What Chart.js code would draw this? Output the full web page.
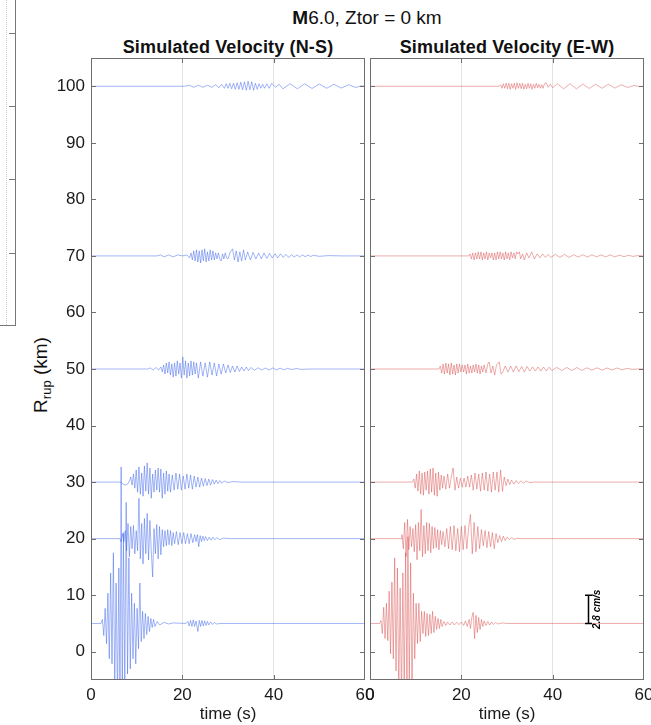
<!DOCTYPE html>
<html>
<head>
<meta charset="utf-8">
<title>Simulated velocity</title>
<script src="https://cdn.jsdelivr.net/npm/chart.js@4.4.1/dist/chart.umd.min.js"></script>
<style>
  body { margin: 0; width: 651px; height: 725px; overflow: hidden; background: #fff; position: relative;
         font-family: "Liberation Sans", Arial, sans-serif; color: #111; }
  canvas { position: absolute; top: 0; }
  .lbl { position: absolute; white-space: nowrap; line-height: 1; }
  .frag { position: absolute; background: #777; }
</style>
</head>
<body>

<!-- piece of the neighbouring figure cut off at the left edge -->
<div class="frag" style="left:15px;top:0;width:1px;height:326px"></div>
<div class="frag" style="left:0;top:325px;width:16px;height:1px"></div>
<div class="frag" style="left:9px;top:33px;width:6px;height:1px"></div>
<div class="frag" style="left:9px;top:106px;width:6px;height:1px"></div>
<div class="frag" style="left:9px;top:179px;width:6px;height:1px"></div>
<div class="frag" style="left:9px;top:253px;width:6px;height:1px"></div>
<div style="position:absolute;left:6px;top:0;height:325px;border-left:1px dotted #ccc"></div>

<div class="lbl" style="left:367px;top:8px;font-size:19px;transform:translateX(-50%)"><b>M</b>6.0, Ztor = 0 km</div>
<div class="lbl" style="left:228px;top:38px;font-size:18px;font-weight:bold;letter-spacing:0.15px;transform:translateX(-50%)">Simulated Velocity (N-S)</div>
<div class="lbl" style="left:507px;top:38px;font-size:18px;font-weight:bold;letter-spacing:0.15px;transform:translateX(-50%)">Simulated Velocity (E-W)</div>
<div class="lbl" style="left:42px;top:375px;font-size:19px;transform:translate(-50%,-50%) rotate(-90deg)">R<sub style="font-size:13px">rup</sub> (km)</div>

<canvas id="nsChart" width="380" height="725" style="left:0"></canvas>
<canvas id="ewChart" width="320" height="725" style="left:356px"></canvas>

<script>
// trace offsets (km) and axes
const rrup = [5, 20, 30, 50, 70, 100];
const xTicks = [0, 20, 40, 60];
const yTicks = [0, 10, 20, 30, 40, 50, 60, 70, 80, 90, 100];
const kmPerCms = 5 / 2.8;      // scale bar: 2.8 cm/s
const scaleBarT = 47.7;
const scaleBarCms = 2.8;

// velocity traces, [time s, velocity cm/s]
const ns5 = [[0,0],[2.2,0],[2.5,0.4],[2.8,-1.2],[3.1,1.5],[3.4,-2.0],[3.7,3.0],[4.0,-3.5],[4.3,5.0],[4.6,-4.0],[4.9,7.0],[5.2,-6.5],[5.5,4.0],[5.8,-7.5],[6.1,5.5],[6.35,-9.0],[6.6,15.5],[6.85,-8.5],[7.1,9.0],[7.4,-6.5],[7.7,12.0],[8.0,-5.0],[8.3,6.5],[8.6,-4.5],[8.9,3.0],[9.2,-3.5],[9.5,2.0],[9.8,-4.0],[10.1,1.5],[10.4,-2.5],[10.7,4.0],[11.0,-1.8],[11.3,1.2],[11.6,-1.5],[11.9,1.0],[12.2,-1.1],[12.5,0.7],[12.8,-0.8],[13.1,0.5],[13.4,-0.4],[13.7,0.4],[14.0,-0.3],[14.5,0.2],[15,-0.15],[16,0.1],[17,-0.05],[18,0.05],[20.8,0],[21.2,0.2],[21.5,-0.25],[21.8,0.3],[22.1,-0.3],[22.4,0.35],[22.7,-0.3],[23.0,0.25],[23.4,-0.8],[23.7,0.3],[24.0,-0.3],[24.3,0.3],[24.6,-0.25],[24.9,0.25],[25.2,-0.2],[25.5,0.2],[25.8,-0.15],[26.2,0.15],[26.6,-0.1],[27.0,0.1],[27.5,-0.05],[28.5,0],[60,0]];
const ns20 = [[0,0],[6.3,0],[6.6,-0.3],[6.9,0.5],[7.2,-0.3],[7.5,0.8],[7.8,-1.2],[8.1,1.5],[8.4,-1.8],[8.7,1.2],[9.0,-1.0],[9.3,1.3],[9.6,-1.5],[9.9,0.8],[10.2,-1.2],[10.5,4.0],[10.8,-2.0],[11.1,1.5],[11.4,-2.5],[11.7,2.0],[12.0,-1.5],[12.3,2.5],[12.6,-2.1],[12.9,1.8],[13.2,-1.2],[13.5,-3.8],[13.8,1.0],[14.1,-1.5],[14.4,1.4],[14.7,-2.0],[15.0,1.2],[15.3,-1.6],[15.6,0.9],[15.9,-0.8],[16.2,0.8],[16.5,-0.7],[16.8,0.9],[17.1,-0.6],[17.4,0.8],[17.7,-0.7],[18.0,0.6],[18.3,-0.5],[18.7,0.7],[19.1,-0.6],[19.5,0.6],[19.9,-0.5],[20.3,0.6],[20.7,-0.5],[21.1,0.5],[21.5,-0.5],[21.9,0.5],[22.3,-0.4],[22.7,0.4],[23.0,-0.3],[23.3,0.4],[23.6,-0.8],[23.9,0.3],[24.2,-0.3],[24.5,0.25],[24.8,-0.2],[25.1,0.2],[25.5,-0.2],[25.9,0.15],[26.3,-0.15],[26.7,0.15],[27.1,-0.1],[27.6,0.1],[28.2,-0.1],[29,0.05],[30.5,0],[60,0]];
const ns30 = [[0,0],[6.6,0],[7.0,-0.2],[7.5,-0.3],[8.0,-0.2],[8.4,0.1],[8.7,0.5],[9.0,-0.3],[9.3,0.8],[9.6,-0.6],[9.9,1.2],[10.2,-1.0],[10.5,1.5],[10.8,-1.2],[11.1,0.9],[11.4,-1.4],[11.7,1.6],[12.0,-0.9],[12.3,1.9],[12.6,-1.2],[12.9,1.4],[13.2,-1.6],[13.5,0.8],[13.8,-1.0],[14.1,1.2],[14.4,-0.8],[14.7,1.4],[15.0,-1.0],[15.3,1.3],[15.6,-1.6],[15.9,0.9],[16.2,-1.2],[16.5,1.1],[16.8,-0.9],[17.1,0.8],[17.4,-1.0],[17.8,0.7],[18.2,-0.8],[18.6,0.9],[19.0,-0.7],[19.4,0.8],[19.8,-0.8],[20.2,0.6],[20.6,-0.7],[21.0,0.8],[21.4,-0.6],[21.8,0.7],[22.2,-0.7],[22.6,0.6],[23.0,-0.5],[23.4,0.5],[23.8,-0.5],[24.2,0.4],[24.6,-0.4],[25.0,0.35],[25.4,-0.35],[25.8,0.3],[26.2,-0.3],[26.6,0.25],[27.0,-0.2],[27.4,0.2],[27.8,-0.15],[28.2,0.15],[28.6,-0.1],[29.2,0.1],[30,-0.05],[31,0.05],[33,0],[60,0]];
const ns50 = [[0,0],[12.4,0],[13.0,0.1],[13.6,-0.1],[14.2,0.15],[14.8,-0.1],[15.3,0.2],[15.6,-0.3],[15.9,0.4],[16.2,-0.5],[16.5,0.6],[16.8,-0.4],[17.1,0.7],[17.4,-0.6],[17.7,0.5],[18.0,-0.8],[18.3,0.6],[18.6,-0.7],[18.9,0.8],[19.2,-0.5],[19.5,0.6],[19.8,-0.9],[20.1,1.2],[20.4,-0.6],[20.7,0.8],[21.0,-0.9],[21.3,0.6],[21.6,-0.7],[21.9,0.8],[22.2,-0.6],[22.5,0.7],[22.8,-0.5],[23.1,0.6],[23.5,-0.9],[24.0,0.7],[24.5,-0.7],[25.0,0.6],[25.5,-0.8],[26.0,0.7],[26.5,-0.6],[27.0,0.6],[27.5,-0.7],[28.0,0.5],[28.5,-0.5],[29.0,0.5],[29.5,-0.4],[30.0,0.4],[30.5,-0.35],[31.0,0.3],[31.5,-0.3],[32.0,0.3],[32.5,-0.25],[33.0,0.2],[33.5,-0.2],[34.0,0.2],[34.5,-0.15],[35.0,0.15],[35.8,-0.12],[36.6,0.12],[37.4,-0.1],[38.2,0.1],[39.0,-0.1],[39.8,0.1],[40.6,-0.08],[41.4,0.08],[42.2,-0.08],[43.0,0.06],[44,-0.05],[45,0.05],[46,-0.04],[48,0],[60,0]];
const ns70 = [[0,0],[14.5,0],[15.2,0.1],[16.0,-0.1],[17.0,0.1],[18.0,-0.1],[19.0,0.1],[20.0,0],[21.0,0.1],[21.6,-0.2],[21.9,0.3],[22.2,-0.4],[22.5,0.5],[22.8,-0.5],[23.1,0.6],[23.4,-0.6],[23.7,0.5],[24.0,-0.7],[24.3,0.6],[24.6,-0.5],[24.9,0.7],[25.2,-0.6],[25.5,0.4],[25.8,-0.5],[26.1,0.6],[26.4,-0.4],[26.7,0.5],[27.0,-0.4],[27.3,0.3],[27.6,-0.3],[27.9,0.3],[28.2,-0.3],[28.5,-0.5],[28.8,0.2],[29.1,-0.3],[29.4,0.3],[29.7,-0.2],[30.0,-0.3],[30.5,0.4],[31.0,0.7],[31.4,-0.4],[31.8,0.5],[32.2,-0.6],[32.6,0.4],[33.0,-0.5],[33.4,0.6],[33.8,-0.4],[34.3,0.4],[34.9,-0.4],[35.5,0.35],[36.1,-0.3],[36.7,0.3],[37.3,-0.3],[37.9,0.3],[38.5,-0.25],[39.1,0.25],[39.7,-0.2],[40.3,0.2],[40.9,-0.2],[41.5,0.2],[42.1,-0.15],[42.7,0.15],[43.3,-0.15],[43.9,0.12],[44.5,-0.12],[45.1,0.1],[45.7,-0.1],[46.3,0.1],[46.9,-0.08],[47.5,0.08],[48.1,-0.06],[48.7,0.06],[50,-0.04],[52,0.03],[55,0],[60,0]];
const ns100 = [[0,0],[20.5,0],[21.5,0.1],[22.5,-0.1],[23.5,0.1],[24.5,-0.1],[25.5,0.1],[26.5,-0.1],[27.3,0.15],[28.0,-0.15],[28.6,0.2],[29.2,-0.2],[29.6,0.25],[30.0,-0.2],[30.4,0.3],[30.8,-0.25],[31.2,0.3],[31.6,-0.3],[32.0,0.35],[32.4,-0.3],[32.8,0.4],[33.2,-0.35],[33.6,0.45],[34.0,-0.4],[34.4,0.5],[34.8,-0.35],[35.2,0.45],[35.6,-0.4],[36.0,0.3],[36.4,-0.3],[36.8,0.25],[37.2,-0.2],[37.6,0.2],[38.0,-0.2],[38.5,0.25],[39.0,-0.2],[39.6,0.3],[40.4,-0.1],[41.2,0.2],[42.0,-0.25],[43.6,0.25],[45.2,-0.25],[46.8,0.25],[48.4,-0.22],[50.0,0.22],[51.6,-0.2],[53.2,0.2],[54.8,-0.18],[56.4,0.15],[58.0,-0.12],[59.2,0.05],[60,0]];

const ew5 = [[0,0],[2.1,0],[2.4,0.3],[2.7,-1.0],[3.0,1.6],[3.3,-1.5],[3.6,2.0],[3.9,-1.7],[4.2,3.2],[4.5,-3.0],[4.8,4.1],[5.1,-3.5],[5.4,6.5],[5.7,-4.7],[6.0,5.5],[6.3,-7.0],[6.6,3.5],[6.9,-8.0],[7.2,5.0],[7.5,-6.5],[7.8,7.0],[8.1,-7.5],[8.3,8.6],[8.6,-6.0],[8.9,6.0],[9.2,-7.0],[9.5,3.0],[9.8,-3.5],[10.1,2.0],[10.4,-2.0],[10.7,2.0],[11.0,-1.8],[11.3,1.2],[11.6,-1.0],[11.9,1.2],[12.2,-1.3],[12.5,1.0],[12.8,-1.2],[13.1,0.9],[13.4,-1.0],[13.7,1.2],[14.0,-0.9],[14.3,0.7],[14.6,-0.6],[14.9,0.5],[15.2,-0.5],[15.5,0.4],[15.8,-0.3],[16.2,0.2],[16.6,-0.2],[17.0,0.15],[17.5,-0.15],[18.0,0.15],[18.5,-0.15],[19.0,0.12],[19.5,-0.12],[20.0,0.15],[20.5,-0.2],[20.9,0.25],[21.3,-0.3],[21.7,0.4],[22.0,-0.5],[22.3,0.6],[22.6,1.1],[22.9,-1.5],[23.2,0.8],[23.5,-0.9],[23.8,0.6],[24.1,-0.6],[24.4,0.4],[24.7,-0.3],[25.0,0.25],[25.4,-0.2],[25.8,0.2],[26.2,-0.15],[26.6,0.15],[27.0,-0.1],[27.5,0.1],[28,-0.05],[29,0.05],[30,0],[60,0]];
const ew20 = [[0,0],[6.8,0],[7.0,0.4],[7.3,-1.0],[7.6,1.6],[7.9,-1.8],[8.2,1.9],[8.5,-1.1],[8.8,1.2],[9.1,-0.8],[9.4,1.0],[9.7,-1.3],[10.0,1.4],[10.3,-2.1],[10.6,1.6],[10.9,-1.2],[11.2,2.9],[11.5,-1.8],[11.8,1.3],[12.1,-1.5],[12.4,1.6],[12.7,-1.2],[13.0,1.5],[13.3,-1.4],[13.6,1.2],[13.9,-1.0],[14.2,1.1],[14.5,-0.9],[14.8,0.9],[15.1,-1.1],[15.4,0.8],[15.7,-0.6],[16.0,0.7],[16.4,-0.8],[16.8,1.0],[17.2,-1.0],[17.6,1.2],[18.0,-1.1],[18.4,1.3],[18.8,-1.2],[19.2,1.0],[19.6,-1.3],[20.0,1.2],[20.4,-1.1],[20.8,1.3],[21.2,-1.0],[21.6,1.1],[22.0,2.4],[22.4,-1.5],[22.8,1.6],[23.2,-1.3],[23.6,1.2],[24.0,-1.0],[24.4,0.9],[24.8,-0.7],[25.2,0.8],[25.6,-0.9],[26.0,0.7],[26.4,-0.8],[26.8,0.6],[27.2,-1.0],[27.6,0.5],[28.0,-0.4],[28.4,0.3],[28.8,-0.3],[29.2,0.25],[29.6,-0.2],[30.0,0.15],[30.5,-0.1],[31.0,0.1],[31.6,-0.08],[32.2,0.05],[33,0],[60,0]];
const ew30 = [[0,0],[9.3,0],[9.6,0.3],[9.9,-0.6],[10.2,0.8],[10.5,-0.9],[10.8,1.1],[11.1,-1.2],[11.4,0.9],[11.7,-1.3],[12.0,1.0],[12.3,-0.8],[12.6,1.1],[12.9,-1.2],[13.2,1.3],[13.5,-1.0],[13.8,1.4],[14.1,-1.3],[14.4,0.9],[14.7,-1.4],[15.0,1.0],[15.3,-0.8],[15.6,0.7],[15.9,-0.6],[16.2,0.6],[16.6,-0.7],[17.0,0.8],[17.4,-0.6],[17.8,0.5],[18.2,1.4],[18.6,-0.8],[19.0,0.5],[19.4,-0.6],[19.8,0.4],[20.2,-0.5],[20.6,0.4],[21.0,-0.5],[21.4,0.6],[21.8,-0.5],[22.2,0.7],[22.6,-0.8],[23.0,0.9],[23.4,-0.7],[23.8,0.8],[24.2,-0.9],[24.6,0.9],[25.0,-0.8],[25.4,1.0],[25.8,-0.9],[26.2,0.8],[26.6,-1.0],[27.0,1.0],[27.4,-0.8],[27.8,1.0],[28.2,-1.0],[28.6,1.2],[29.0,-0.9],[29.4,0.5],[29.8,-0.35],[30.2,0.3],[30.6,-0.25],[31.0,0.2],[31.5,-0.2],[32.0,0.15],[32.5,-0.15],[33.0,0.12],[33.6,-0.1],[34.2,0.1],[35,-0.05],[36,0],[60,0]];
const ew50 = [[0,0],[15.1,0],[15.4,0.3],[15.7,-0.4],[16.0,0.5],[16.3,-0.5],[16.6,0.6],[16.9,-0.4],[17.2,0.5],[17.5,-0.6],[17.8,0.6],[18.1,-0.5],[18.4,0.4],[18.7,-0.6],[19.0,0.5],[19.3,-0.4],[19.6,0.5],[19.9,-0.3],[20.2,0.4],[20.5,-0.3],[20.8,0.4],[21.1,-0.5],[21.4,0.5],[21.7,-0.4],[22.0,0.3],[22.3,-0.4],[22.6,0.4],[22.9,-0.3],[23.2,0.5],[23.5,-0.4],[23.8,0.4],[24.1,-0.5],[24.4,0.3],[24.7,-0.3],[25.0,0.4],[25.4,-0.4],[25.8,0.5],[26.1,0.7],[26.5,-0.4],[26.9,0.3],[27.3,-0.6],[27.7,0.4],[28.3,0.7],[28.7,-0.5],[29.1,-0.3],[29.6,0.3],[30.2,-0.3],[30.8,0.3],[31.4,-0.3],[32.0,0.3],[32.6,-0.25],[33.2,0.25],[33.8,-0.3],[34.4,0.25],[35.0,-0.2],[35.6,0.2],[36.2,-0.2],[36.8,0.2],[37.4,-0.2],[38.0,0.2],[38.6,-0.2],[39.2,0.18],[39.8,-0.15],[40.9,0.15],[42.0,-0.15],[43.1,0.15],[44.2,-0.15],[45.3,0.15],[46.4,-0.15],[47.5,0.12],[48.6,-0.12],[49.7,0.12],[50.8,-0.12],[51.9,0.1],[53.0,-0.1],[54.1,0.1],[55.2,-0.08],[56.3,0.06],[57.4,-0.04],[58.5,0],[60,0]];
const ew70 = [[0,0],[21.6,0],[21.9,0.2],[22.2,-0.3],[22.5,0.3],[22.8,-0.4],[23.1,0.3],[23.4,-0.3],[23.7,0.4],[24.0,-0.3],[24.3,0.4],[24.6,-0.4],[24.9,0.3],[25.2,-0.3],[25.5,0.4],[25.8,-0.4],[26.1,0.3],[26.4,-0.2],[26.7,0.3],[27.0,-0.4],[27.3,0.3],[27.6,-0.4],[27.9,0.4],[28.2,-0.3],[28.5,0.4],[28.8,-0.3],[29.1,0.3],[29.4,-0.4],[29.7,0.4],[30.0,-0.3],[30.3,0.3],[30.6,-0.4],[30.9,0.4],[31.2,-0.2],[31.5,0.3],[31.8,-0.3],[32.1,0.4],[32.4,0.2],[32.7,0.4],[33.0,-0.3],[33.4,0.2],[33.8,-0.4],[34.3,0.3],[34.8,-0.2],[35.4,0.4],[36.0,-0.3],[36.6,0.2],[37.2,-0.2],[37.8,0.2],[38.4,-0.15],[39.0,0.15],[39.6,-0.15],[40.6,0.15],[41.6,-0.15],[42.6,0.15],[43.6,-0.15],[44.6,0.12],[45.6,-0.12],[46.6,0.12],[47.6,-0.12],[48.6,0.12],[49.6,-0.1],[50.6,0.1],[51.6,-0.1],[52.6,0.1],[53.6,-0.1],[54.6,0.08],[55.6,-0.08],[56.6,0.06],[57.6,-0.05],[58.6,0.03],[60,0]];
const ew100 = [[0,0],[28.3,0],[28.6,0.15],[28.9,-0.2],[29.2,0.25],[29.5,-0.2],[29.8,0.3],[30.1,-0.25],[30.4,0.3],[30.7,-0.3],[31.0,0.25],[31.3,-0.2],[31.6,0.3],[31.9,-0.3],[32.2,0.35],[32.5,-0.2],[32.8,0.3],[33.1,-0.25],[33.4,0.3],[33.7,-0.3],[34.0,0.2],[34.3,-0.25],[34.6,0.3],[34.9,-0.2],[35.2,0.25],[35.5,-0.3],[35.8,0.2],[36.1,-0.2],[36.4,0.3],[36.7,-0.15],[37.0,0.2],[37.3,-0.2],[37.6,0.15],[37.9,-0.2],[38.2,0.25],[38.6,0.35],[39.0,-0.1],[39.5,0.2],[40.0,-0.15],[41.0,0.25],[42.4,-0.25],[43.8,0.25],[45.2,-0.25],[46.6,0.22],[48.0,-0.22],[49.4,0.2],[50.8,-0.2],[52.2,0.2],[53.6,-0.18],[55.0,0.15],[56.4,-0.12],[57.8,0.08],[59.0,-0.03],[60,0]];

const nsTraces = [ns5, ns20, ns30, ns50, ns70, ns100];
const ewTraces = [ew5, ew20, ew30, ew50, ew70, ew100];

Chart.defaults.font.family = '"Liberation Sans", Arial, sans-serif';
Chart.defaults.color = '#1a1a1a';

// box, inward ticks and (optionally) the amplitude scale bar
const framePlugin = {
  id: 'frame',
  afterDatasetsDraw(chart, args, opts) {
    const { ctx, chartArea: a, scales: { x, y } } = chart;
    ctx.save();
    ctx.strokeStyle = '#6e6e6e';
    ctx.lineWidth = 1;
    ctx.beginPath();
    yTicks.forEach(v => {
      const p = Math.round(y.getPixelForValue(v)) + 0.5;
      ctx.moveTo(a.left, p); ctx.lineTo(a.left + 5, p);
      ctx.moveTo(a.right - 5, p); ctx.lineTo(a.right, p);
    });
    xTicks.slice(1, -1).forEach(v => {
      const p = Math.round(x.getPixelForValue(v)) + 0.5;
      ctx.moveTo(p, a.top); ctx.lineTo(p, a.top + 5);
      ctx.moveTo(p, a.bottom - 5); ctx.lineTo(p, a.bottom);
    });
    ctx.stroke();
    ctx.strokeRect(Math.round(a.left) + 0.5, Math.round(a.top) + 0.5,
                   Math.round(a.right - a.left) - 1, Math.round(a.bottom - a.top) - 1);

    if (opts.scaleBar) {
      const bx = Math.round(x.getPixelForValue(scaleBarT)) + 0.5;
      const y0 = y.getPixelForValue(rrup[0]);
      const y1 = y.getPixelForValue(rrup[0] + scaleBarCms * kmPerCms);
      ctx.strokeStyle = '#000';
      ctx.lineWidth = 1.5;
      ctx.beginPath();
      ctx.moveTo(bx, y0); ctx.lineTo(bx, y1);
      ctx.moveTo(bx - 3.5, y0); ctx.lineTo(bx + 3.5, y0);
      ctx.moveTo(bx - 3.5, y1); ctx.lineTo(bx + 3.5, y1);
      ctx.stroke();
      ctx.translate(bx + 9, (y0 + y1) / 2);
      ctx.rotate(-Math.PI / 2);
      ctx.fillStyle = '#000';
      ctx.font = 'italic bold 10px "Liberation Sans", Arial, sans-serif';
      ctx.textAlign = 'center';
      ctx.textBaseline = 'middle';
      ctx.fillText(scaleBarCms + ' cm/s', 0, 0);
    }
    ctx.restore();
  }
};

function makeChart(id, traces, color, showY, padding, scaleBar) {
  const datasets = traces.map((tr, i) => ({
    data: tr.map(([t, v]) => ({ x: t, y: rrup[i] + v * kmPerCms })),
    borderColor: color,
    borderWidth: 0.6,
    pointRadius: 0,
    tension: 0,
    fill: false
  }));
  return new Chart(document.getElementById(id), {
    type: 'line',
    data: { datasets },
    plugins: [framePlugin],
    options: {
      responsive: false,
      animation: false,
      layout: { padding },
      plugins: {
        legend: { display: false },
        tooltip: { enabled: false },
        frame: { scaleBar }
      },
      scales: {
        x: {
          type: 'linear',
          min: 0, max: 60,
          afterBuildTicks: s => { s.ticks = xTicks.map(v => ({ value: v })); },
          afterFit: s => { s.height = 45; },
          ticks: { font: { size: 17 }, padding: 5, maxRotation: 0, color: '#1a1a1a' },
          grid: {
            drawTicks: false,
            color: c => (c.tick && (c.tick.value === 20 || c.tick.value === 40)) ? '#e4e4e4' : 'rgba(0,0,0,0)'
          },
          border: { display: false },
          title: { display: true, text: 'time (s)', font: { size: 17 }, padding: 0, color: '#1a1a1a' }
        },
        y: {
          type: 'linear',
          display: showY,
          min: -5, max: 105,
          afterBuildTicks: s => { s.ticks = yTicks.map(v => ({ value: v })); },
          afterFit: s => { s.width = showY ? 91 : 0; },
          ticks: { font: { size: 17 }, padding: 6, color: '#1a1a1a' },
          grid: { display: false, drawTicks: false },
          border: { display: false }
        }
      }
    }
  });
}

makeChart('nsChart', nsTraces, 'rgba(60,100,235,0.8)', true,
          { top: 58, right: 15, bottom: 0, left: 0 }, false);
makeChart('ewChart', ewTraces, 'rgba(215,70,70,0.75)', false,
          { top: 58, right: 32, bottom: 0, left: 14 }, true);
</script>
</body>
</html>
